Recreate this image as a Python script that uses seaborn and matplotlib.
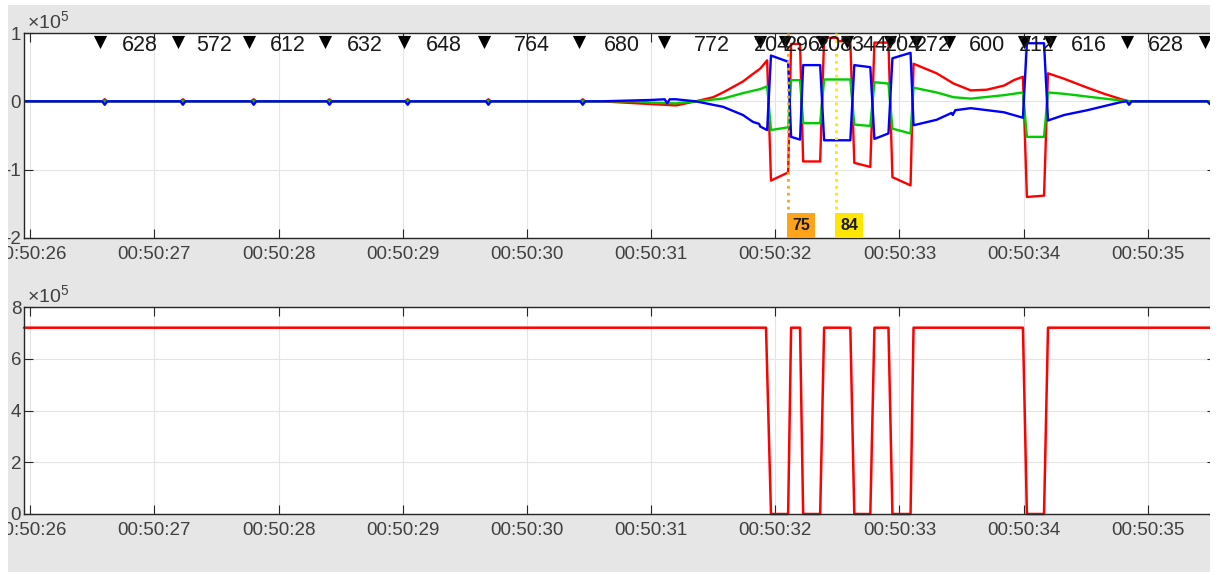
import matplotlib
matplotlib.use("Agg")
import matplotlib.pyplot as plt
import seaborn as sns
from matplotlib.patches import Rectangle

sns.set_theme(style="white")
plt.rcParams["font.family"] = ["Liberation Sans", "DejaVu Sans"]
plt.rcParams["axes.unicode_minus"] = False
plt.rcParams["mathtext.fontset"] = "custom"
plt.rcParams["mathtext.rm"] = "Liberation Sans"
plt.rcParams["mathtext.it"] = "Liberation Sans:italic"

# ---------------- data (time = seconds after 00:50:00, values in x10^5) ----------------
tick_secs = [26, 27, 28, 29, 30, 31, 32, 33, 34, 35]
tick_labels = ["00:50:26", "00:50:27", "00:50:28", "00:50:29", "00:50:30",
               "00:50:31", "00:50:32", "00:50:33", "00:50:34", "00:50:35"]

beat_t = [26.566, 27.194, 27.766, 28.378, 29.010, 29.658, 30.422, 31.102, 31.874,
          32.078, 32.374, 32.582, 32.926, 33.130, 33.402, 34.002, 34.214, 34.830, 35.458]
rr_ms = [628, 572, 612, 632, 648, 764, 680, 772, 204, 296, 208, 344, 204, 272, 600, 212, 616, 628]

red_t = [25.95, 26.58, 26.60, 26.62, 27.21, 27.23, 27.25, 27.78, 27.80, 27.82,
         28.39, 28.41, 28.43, 29.02, 29.04, 29.06, 29.67, 29.69, 29.71, 30.43, 30.45, 30.47,
         30.60, 31.00, 31.20, 31.36, 31.50, 31.58, 31.68, 31.74, 31.82, 31.88, 31.935,
         31.966, 32.104, 32.128, 32.200, 32.225, 32.362, 32.394, 32.50, 32.51, 32.605,
         32.637, 32.766, 32.799, 32.912, 32.944, 33.09,
         33.114, 33.30, 33.437, 33.575, 33.704, 33.842, 33.922, 33.995,
         34.027, 34.165, 34.197, 34.327, 34.513, 34.65, 34.788, 34.852, 35.52]
red_v = [0.0, 0.0, 0.03, 0.0, 0.0, 0.03, 0.0, 0.0, 0.03, 0.0,
         0.0, 0.03, 0.0, 0.0, 0.03, 0.0, 0.0, 0.03, 0.0, 0.0, 0.03, 0.0,
         0.0, -0.04, -0.06, 0.0, 0.06, 0.13, 0.23, 0.29, 0.40, 0.48, 0.60,
         -1.16, -1.04, 0.84, 0.84, -0.88, -0.88, 0.93, 0.93, 0.88, 0.88,
         -0.90, -0.96, 0.86, 0.86, -1.11, -1.23,
         0.55, 0.41, 0.26, 0.16, 0.17, 0.23, 0.31, 0.36,
         -1.40, -1.38, 0.41, 0.33, 0.20, 0.11, 0.03, 0.0, 0.0]

green_t = [25.95, 30.90, 31.00, 31.20, 31.36, 31.58, 31.74, 31.88, 31.935,
           31.966, 32.104, 32.128, 32.200, 32.225, 32.362, 32.394, 32.605,
           32.637, 32.766, 32.799, 32.912, 32.944, 33.09,
           33.114, 33.30, 33.437, 33.575, 33.842, 33.995,
           34.027, 34.165, 34.197, 34.327, 34.513, 34.65, 34.852, 35.52]
green_v = [0.0, 0.0, -0.02, -0.03, 0.0, 0.04, 0.12, 0.18, 0.22,
           -0.42, -0.38, 0.31, 0.31, -0.32, -0.32, 0.32, 0.32,
           -0.34, -0.36, 0.28, 0.26, -0.40, -0.47,
           0.20, 0.13, 0.06, 0.04, 0.09, 0.13,
           -0.52, -0.52, 0.13, 0.11, 0.07, 0.04, 0.0, 0.0]

blue_t = [25.95, 26.58, 26.60, 26.62, 27.21, 27.23, 27.25, 27.78, 27.80, 27.82,
          28.39, 28.41, 28.43, 29.02, 29.04, 29.06, 29.67, 29.69, 29.71, 30.43, 30.45, 30.47,
          30.60, 31.00, 31.11, 31.13, 31.15, 31.20, 31.36, 31.58, 31.74, 31.82, 31.87, 31.88, 31.935,
          31.966, 32.104, 32.128, 32.200, 32.225, 32.362, 32.394, 32.605,
          32.637, 32.766, 32.799, 32.912, 32.944, 33.09,
          33.114, 33.30, 33.42, 33.43, 33.45, 33.575, 33.842, 33.995,
          34.027, 34.165, 34.197, 34.327, 34.513, 34.65, 34.788, 34.83, 34.85, 34.87,
          35.48, 35.50, 35.52]
blue_v = [0.0, 0.0, -0.05, 0.0, 0.0, -0.05, 0.0, 0.0, -0.05, 0.0,
          0.0, -0.05, 0.0, 0.0, -0.05, 0.0, 0.0, -0.05, 0.0, 0.0, -0.05, 0.0,
          0.0, 0.02, 0.03, -0.03, 0.03, 0.03, 0.0, -0.08, -0.20, -0.30, -0.33, -0.37, -0.42,
          0.67, 0.58, -0.52, -0.56, 0.53, 0.53, -0.57, -0.57,
          0.53, 0.50, -0.55, -0.47, 0.63, 0.71,
          -0.35, -0.27, -0.17, -0.20, -0.13, -0.10, -0.16, -0.24,
          0.85, 0.85, -0.28, -0.20, -0.13, -0.07, -0.01, 0.0, -0.05, 0.0,
          0.0, -0.04, 0.0]

level_t = [25.95, 31.926, 31.966, 32.104, 32.128, 32.200, 32.225, 32.362, 32.394,
           32.605, 32.637, 32.766, 32.799, 32.912, 32.944, 33.09, 33.114,
           33.995, 34.027, 34.165, 34.197, 35.52]
level_v = [7.2, 7.2, 0.0, 0.0, 7.2, 7.2, 0.0, 0.0, 7.2,
           7.2, 0.0, 0.0, 7.2, 7.2, 0.0, 0.0, 7.2,
           7.2, 0.0, 0.0, 7.2, 7.2]

cursor_t = [32.104, 32.49]
cursor_labels = ["75", "84"]
cursor_colors = ["#ffa31a", "#ffe600"]

# ---------------- figure ----------------
W, H = 1216, 572
fig = plt.figure(figsize=(W / 100, H / 100), dpi=100, facecolor="#e6e6e6")
ax1 = fig.add_axes([24 / W, 1 - 238 / H, 1192 / W, 205 / H])
ax2 = fig.add_axes([24 / W, 1 - 514 / H, 1192 / W, 207 / H])

xmin, xmax = 25.95, 35.55

for ax in (ax1, ax2):
    ax.set_facecolor("white")
    ax.set_xlim(xmin, xmax)
    ax.set_xticks(tick_secs)
    ax.set_xticklabels(tick_labels)
    ax.grid(True, color="#e4e4e4", lw=0.8)
    ax.set_axisbelow(True)
    for s in ax.spines.values():
        s.set_color("#262626")
        s.set_linewidth(1.0)
    ax.tick_params(axis="both", direction="in", length=6.5, width=0.8, color="#262626",
                   labelcolor="#404040", labelsize=13.5, top=True, right=True,
                   bottom=True, left=True)
    ax.tick_params(axis="x", pad=6)
    ax.tick_params(axis="y", pad=2)

sns.lineplot(x=red_t, y=red_v, ax=ax1, color="#ff0000", lw=1.7, sort=False, estimator=None)
sns.lineplot(x=green_t, y=green_v, ax=ax1, color="#00cc00", lw=1.7, sort=False, estimator=None)
sns.lineplot(x=blue_t, y=blue_v, ax=ax1, color="#0000ff", lw=1.7, sort=False, estimator=None)
ax1.set_ylim(-2, 1)
ax1.set_yticks([-2, -1, 0, 1])
ax1.set_yticklabels(["-2", "-1", "0", "1"])

# beat markers and RR intervals
sns.scatterplot(x=beat_t, y=[0.87] * len(beat_t), ax=ax1, marker="v", s=90,
                color="black", linewidth=0, zorder=6)
for i, rr in enumerate(rr_ms):
    mid = (beat_t[i] + beat_t[i + 1]) / 2
    ax1.text(mid, 0.81, str(rr), ha="center", va="center", fontsize=15.5,
             color="#1a1a1a", zorder=7)

# cursors
for t, lab, c in zip(cursor_t, cursor_labels, cursor_colors):
    ax1.vlines(t, -1.57, 1, colors=c, linestyles=(0, (1, 1.5)), lw=2, zorder=5)
    ax1.annotate(lab, xy=(t, -2), xytext=(2.9, 3.5), textcoords="offset points",
                 ha="left", va="bottom", fontsize=11.5, fontweight="bold", color="#1a1a1a",
                 bbox=dict(boxstyle="square,pad=0.3", fc=c, ec="none"), zorder=8,
                 annotation_clip=False)

sns.lineplot(x=level_t, y=level_v, ax=ax2, color="#ff0000", lw=1.8, sort=False, estimator=None)
for ln in ax2.lines:
    ln.set_clip_on(False)
ax2.set_ylim(0, 8)
ax2.set_yticks([0, 2, 4, 6, 8])
ax2.set_yticklabels(["0", "2", "4", "6", "8"])

for ax in (ax1, ax2):
    ax.set_xlabel("")
    ax.set_ylabel("")

fig.text(27 / W, 1 - 28 / H, r"$\times$10$^{5}$", fontsize=14, color="#404040", va="baseline")
fig.text(27 / W, 1 - 302 / H, r"$\times$10$^{5}$", fontsize=14, color="#404040", va="baseline")

# cropped white borders of the screenshot
for (x0, y0, w, h) in [(0, 0, 8 / W, 1), (1210 / W, 0, 6 / W, 1), (0, 1 - 5 / H, 1, 5 / H)]:
    fig.add_artist(Rectangle((x0, y0), w, h, transform=fig.transFigure,
                             fc="white", ec="none", zorder=20))

fig.savefig("out.png", dpi=100, facecolor=fig.get_facecolor())
